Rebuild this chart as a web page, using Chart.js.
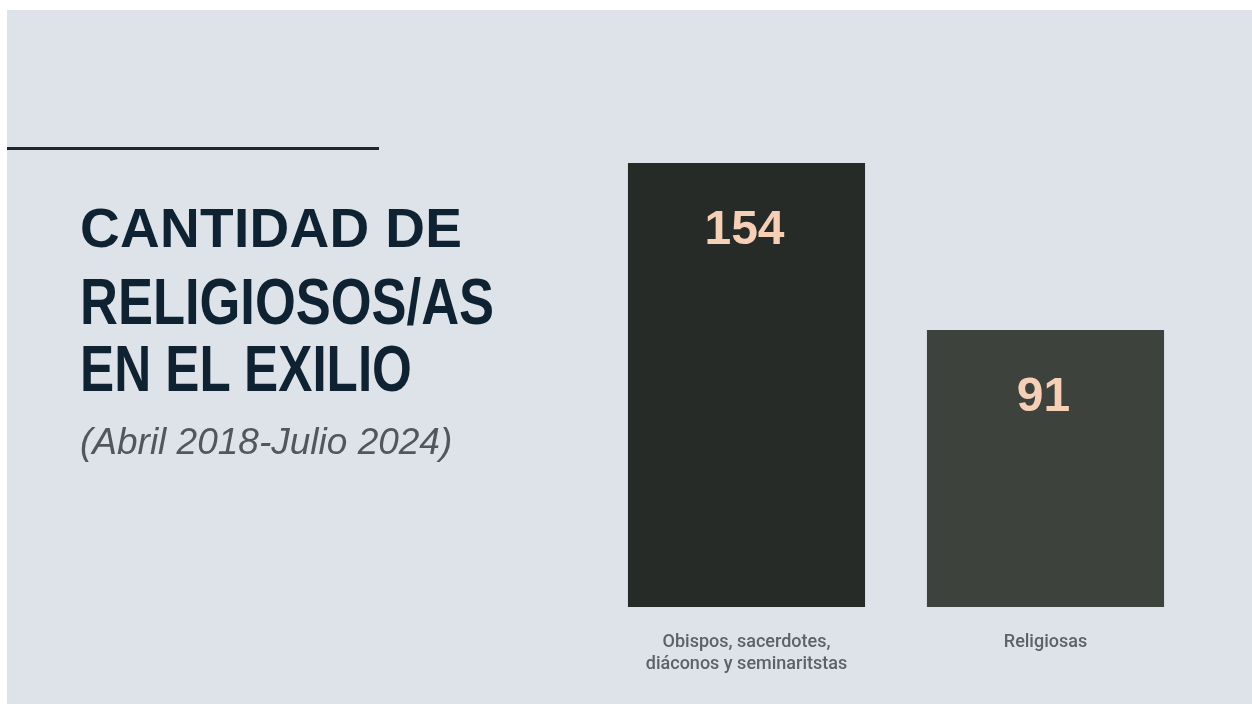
<!DOCTYPE html>
<html lang="es">
<head>
<meta charset="utf-8">
<script src="https://cdn.jsdelivr.net/npm/chart.js@4/dist/chart.umd.min.js"></script>
<style>
  html,body{margin:0;padding:0;background:#fff;}
  #page{position:relative;width:1252px;height:704px;overflow:hidden;}
  #panel{position:absolute;left:7px;top:10px;right:0;bottom:0;background:#dee2e9;}
  #chartBox{position:absolute;left:0;top:0;width:1252px;height:704px;}
  .rule{position:absolute;left:7px;top:147px;width:372px;height:3px;background:#1b2731;}
  .t{position:absolute;left:80px;margin:0;white-space:nowrap;font-family:"Liberation Sans",Arial,sans-serif;font-weight:700;color:#0f2232;line-height:1;transform-origin:0 0;}
  #t1{top:201px;font-size:55px;letter-spacing:0.3px;}
  #t2{top:270px;font-size:64px;transform:scaleX(0.82);}
  #t3{top:337px;font-size:64px;transform:scaleX(0.8);}
  #sub{position:absolute;left:80px;top:423px;margin:0;white-space:nowrap;font-family:"Liberation Sans",Arial,sans-serif;font-style:italic;font-weight:400;font-size:37px;line-height:1;color:#52565d;}
</style>
</head>
<body>
<div id="page">
  <div id="panel"></div>
  <div id="chartBox"><canvas id="c" width="1252" height="704"></canvas></div>
  <div class="rule"></div>
  <h1 class="t" id="t1">CANTIDAD DE</h1>
  <h1 class="t" id="t2">RELIGIOSOS/AS</h1>
  <h1 class="t" id="t3">EN EL EXILIO</h1>
  <p id="sub">(Abril 2018-Julio 2024)</p>
</div>
<script>
// data
const categories=[['Obispos, sacerdotes,','diáconos y seminaritstas'],'Religiosas'];
const values=[154,91];
const barColors=['#262b27','#3d423c'];

// value axis does not start at zero in the original graphic
const Y_MIN=-13.5, Y_MAX=160;

const valueLabels={
  id:'valueLabels',
  afterDatasetsDraw(chart){
    const ctx=chart.ctx;const meta=chart.getDatasetMeta(0);
    ctx.save();
    ctx.font='700 48px "Liberation Sans", Arial, sans-serif';
    ctx.fillStyle='#f6d0b6';ctx.textAlign='center';ctx.textBaseline='middle';
    meta.data.forEach((bar,i)=>{ctx.fillText(String(values[i]),bar.x-2,bar.y+68);});
    ctx.restore();
  }
};

new Chart(document.getElementById('c'),{
  type:'bar',
  data:{labels:categories,datasets:[{data:values,backgroundColor:barColors,borderWidth:0,base:Y_MIN,categoryPercentage:1,barPercentage:0.793}]},
  options:{
    responsive:false,animation:false,
    layout:{padding:{left:597,right:57,top:147,bottom:0}},
    plugins:{legend:{display:false},tooltip:{enabled:false},title:{display:false}},
    scales:{
      x:{grid:{display:false},border:{display:false},
        ticks:{color:'#5d6168',font:{family:'Roboto',size:18,weight:'500',lineHeight:1.2},padding:17,maxRotation:0},
        afterFit(s){s.height=97;}},
      y:{display:false,min:Y_MIN,max:Y_MAX}
    }
  },
  plugins:[valueLabels]
});
</script>
</body>
</html>
